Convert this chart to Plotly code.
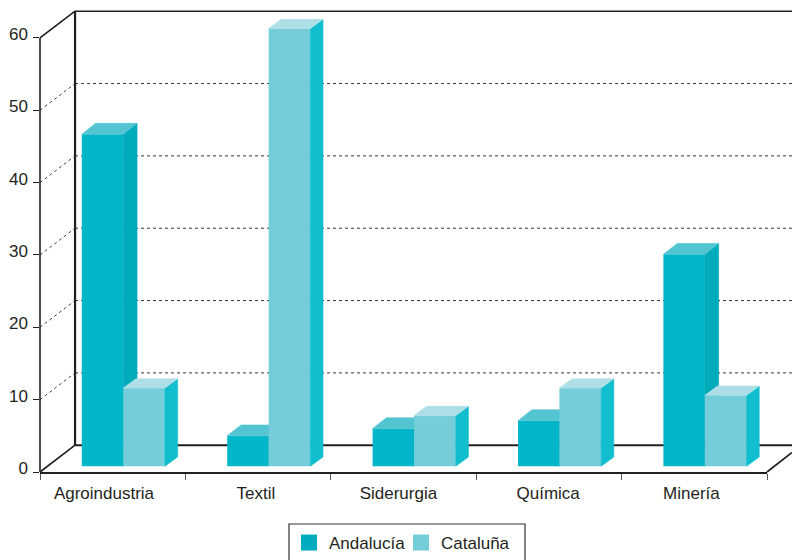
import plotly.graph_objects as go

categories = ["Agroindustria", "Textil", "Siderurgia", "Química", "Minería"]
andalucia = [45.9, 4.2, 5.2, 6.3, 29.3]
cataluna = [10.8, 60.5, 7.0, 10.8, 9.8]
y_ticks = [0, 10, 20, 30, 40, 50, 60]
label_pos = [0.44, 1.485, 2.465, 3.495, 4.48]

INK = "#231f20"
FLOOR = 0.8          # bars stand slightly behind the front edge (value units)
WALL_DX, WALL_DY = 0.241, 3.7   # depth of the box (x units, value units)
X_MAX, Y_MAX = 5, 60
Y_TOP = 65.25        # room above the front frame for the back wall
LABEL_LIFT = 0.55    # tick labels sit a little above their ticks


def faces(values, offset, width, dx, dy):
    side_x, side_y, top_x, top_y = [], [], [], []
    for i, v in enumerate(values):
        l = i + offset - width / 2
        r = i + offset + width / 2
        t = v + FLOOR
        side_x += [r, r + dx, r + dx, r, r, None]
        side_y += [FLOOR, FLOOR + dy, t + dy, t, FLOOR, None]
        top_x += [l, l + dx, r + dx, r, l, None]
        top_y += [t, t + dy, t + dy, t, t, None]
    return side_x, side_y, top_x, top_y


def series(name, values, offset, width, dx, dy, front, side, top, swatch, xa, ya):
    sx, sy, tx, ty = faces(values, offset, width, dx, dy)
    out = [go.Bar(name=name, x=[i + offset for i in range(len(values))], y=values,
                  base=FLOOR, width=width, marker=dict(color=front, line=dict(width=0)),
                  cliponaxis=False, showlegend=False, xaxis=xa, yaxis=ya)]
    for px, py, col in ((sx, sy, side), (tx, ty, top)):
        out.append(go.Scatter(x=px, y=py, mode="lines", fill="toself", fillcolor=col,
                              line=dict(width=0.6, color=col), hoverinfo="skip", showlegend=False,
                              cliponaxis=False, xaxis=xa, yaxis=ya))
    out.append(go.Scatter(name=name, x=[None], y=[None], mode="markers",
                          marker=dict(symbol="square", size=16, color=swatch, line=dict(width=0)),
                          xaxis=xa, yaxis=ya))
    return out


fig = go.Figure()
fig.add_traces(series("Andalucía", andalucia, 0.43, 0.285, 0.095, 1.5,
                      "#00b6c8", "#00abbb", "#52c4d2", "#00adbf", "x", "y"))
fig.add_traces(series("Cataluña", cataluna, 0.716, 0.287, 0.087, 1.28,
                      "#76cdda", "#10bece", "#aedfe7", "#76cdda", "x2", "y2"))


def seg(x0, y0, x1, y1, width=1.6, dash="solid", color=INK):
    return dict(type="line", xref="paper", yref="paper", layer="below",
                x0=x0 / X_MAX, y0=y0 / Y_TOP, x1=x1 / X_MAX, y1=y1 / Y_TOP,
                line=dict(color=color, width=width, dash=dash))


right_edge = (792 - 40) / 727 * X_MAX
shapes = []
for v in y_ticks[1:-1]:
    shapes.append(seg(0, v, WALL_DX, v + WALL_DY, 1, "dot", "#444444"))
    shapes.append(seg(WALL_DX, v + WALL_DY, right_edge, v + WALL_DY, 1, "3px,3px", "#333333"))
shapes += [
    seg(0, 0, 0, Y_MAX),
    seg(0, Y_MAX, WALL_DX, Y_MAX + WALL_DY),
    seg(WALL_DX, 0 + WALL_DY, WALL_DX, Y_MAX + WALL_DY, 2.2),
    seg(WALL_DX, Y_MAX + WALL_DY, right_edge, Y_MAX + WALL_DY),
    seg(WALL_DX, WALL_DY, right_edge, WALL_DY, 2),
    seg(0, 0, WALL_DX, WALL_DY),
    seg(X_MAX, 0, right_edge, 2.7),
    dict(type="rect", xref="paper", yref="paper", layer="below",
         x0=(289 - 40) / 727, x1=(525 - 40) / 727, y0=(472 - 575) / 472, y1=(472 - 524) / 472,
         line=dict(color="#333333", width=1.2), fillcolor="white"),
]

font = dict(family="Liberation Sans, Arial, sans-serif", size=17, color=INK)
fig.update_layout(
    width=792, height=560, margin=dict(l=40, r=25, t=0, b=88, pad=0, autoexpand=False),
    paper_bgcolor="white", plot_bgcolor="rgba(0,0,0,0)", barmode="overlay", font=font,
    shapes=shapes,
    xaxis=dict(range=[0, X_MAX], tickmode="array", tickvals=label_pos, ticktext=categories,
               ticks="", showgrid=False, zeroline=False, showline=True, linecolor=INK, linewidth=1.6,
               ticklabelstandoff=5,
               minor=dict(tickmode="array", tickvals=list(range(X_MAX + 1)), ticks="outside",
                          ticklen=6, tickcolor="#555555", tickwidth=1.2, showgrid=False)),
    yaxis=dict(range=[0, Y_TOP], tickmode="array", tickvals=[v + LABEL_LIFT for v in y_ticks],
               ticktext=[str(v) for v in y_ticks], ticks="", ticklabelstandoff=11,
               showgrid=False, zeroline=False, showline=False,
               minor=dict(tickmode="array", tickvals=y_ticks, ticks="outside", ticklen=6,
                          tickcolor=INK, tickwidth=1.2, showgrid=False)),
    xaxis2=dict(range=[0, X_MAX], overlaying="x", visible=False),
    yaxis2=dict(range=[0, Y_TOP], overlaying="y", visible=False),
    legend=dict(orientation="h", x=(289 - 40) / 727, y=(472 - 525) / 472, xanchor="left", yanchor="top",
                bgcolor="rgba(0,0,0,0)", borderwidth=0, font=font, entrywidth=67, entrywidthmode="pixels"),
    showlegend=True,
)
fig.write_html("out.html", config=dict(displayModeBar=False),
               post_script="document.body.style.margin='0';")
